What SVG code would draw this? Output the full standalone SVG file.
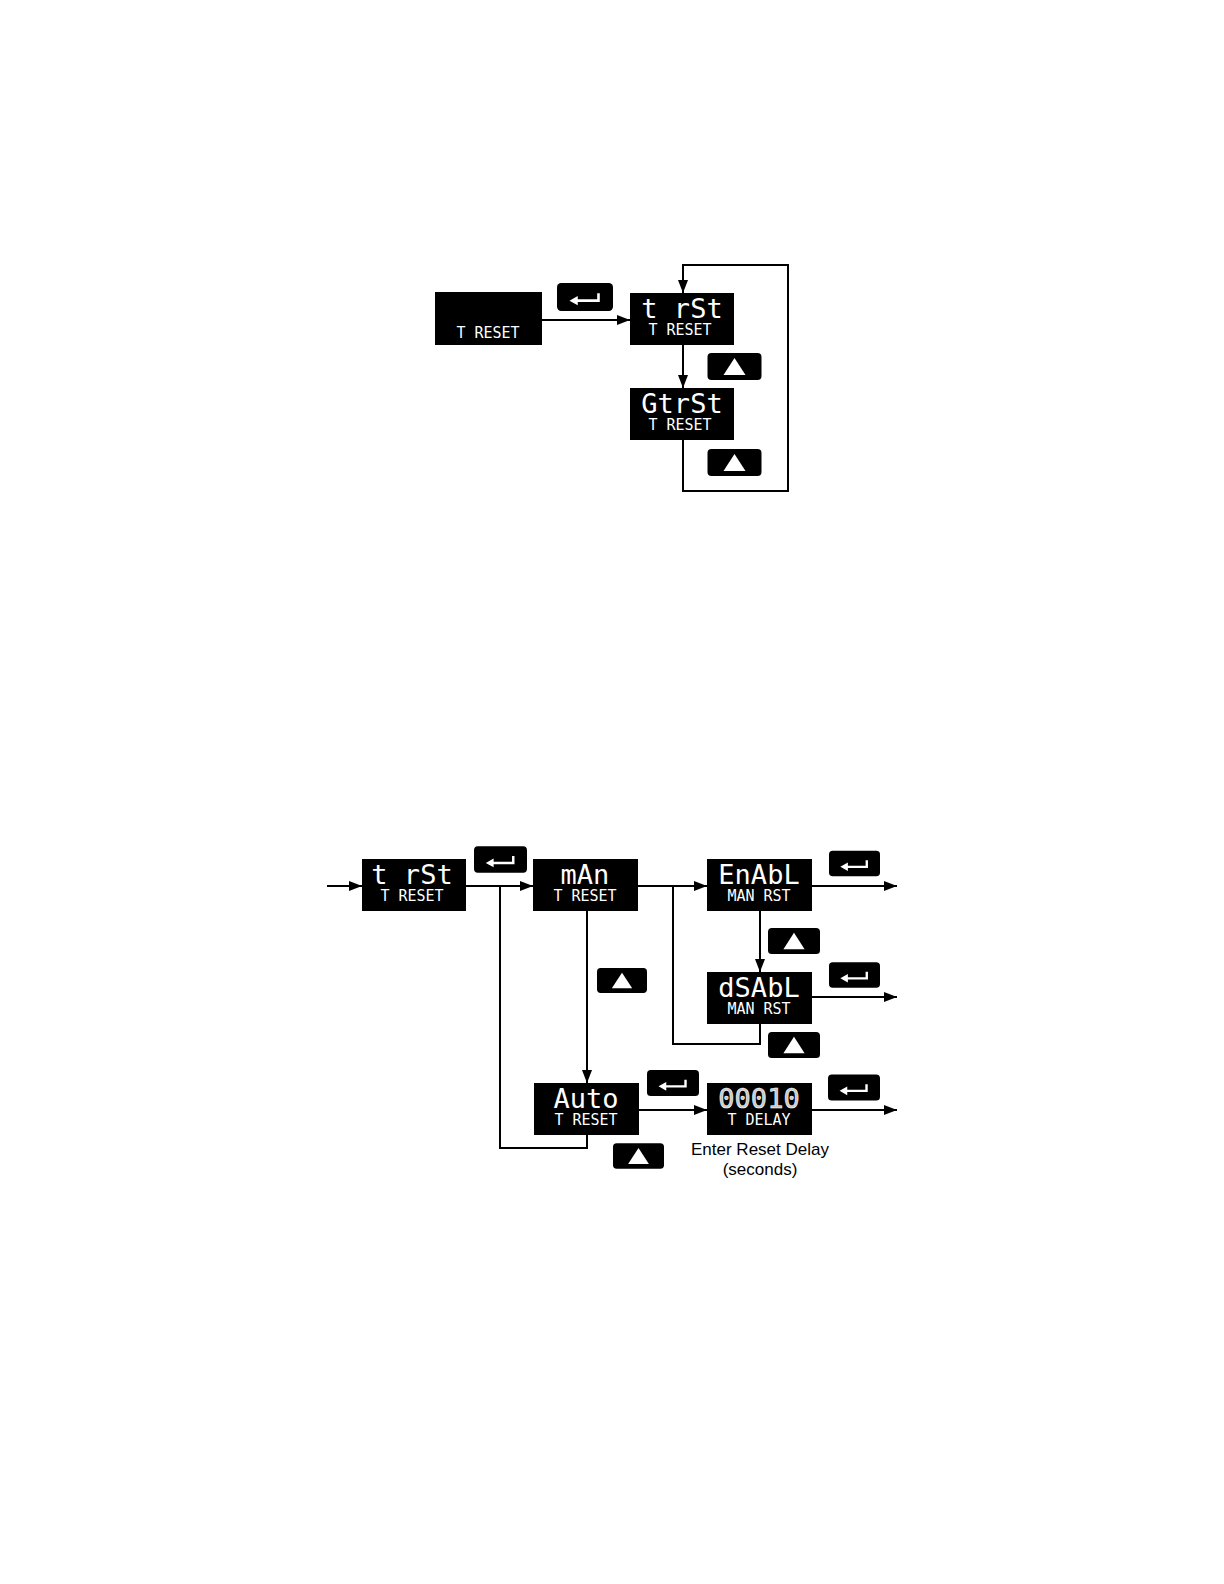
<svg xmlns="http://www.w3.org/2000/svg" xmlns:xlink="http://www.w3.org/1999/xlink" width="1224" height="1584" viewBox="0 0 1224 1584">
<style>
.box{fill:#000}
.big{font-family:"DejaVu Sans Mono",monospace;font-size:27px;fill:#fff;text-anchor:middle}
.dig{font-family:"DejaVu Sans Mono",monospace;font-size:27px;fill:#c8c8c8;stroke:#fff;stroke-width:0.6;text-anchor:middle}
.small{font-family:"DejaVu Sans Mono",monospace;font-size:15px;fill:#fff;text-anchor:middle}
.cap{font-family:"Liberation Sans",Arial,sans-serif;font-size:17px;fill:#000;text-anchor:middle}
.ln{fill:none;stroke:#000;stroke-width:2}
.arr{fill:none;stroke:#000;stroke-width:2;marker-end:url(#ah)}
</style>
<defs>
<marker id="ah" viewBox="0 0 13 10" refX="13" refY="5" markerWidth="13" markerHeight="10" markerUnits="userSpaceOnUse" orient="auto">
<path d="M0,0 L13,5 L0,10 Z" fill="#000"/>
</marker>
<symbol id="enter" viewBox="0 0 54 27">
<rect x="0" y="0" width="54" height="27" rx="4" fill="#000"/>
<path d="M18,17 H40 V10" fill="none" stroke="#fff" stroke-width="2.5"/>
<polygon points="12,17 20,12.5 20,21.5" fill="#fff"/>
</symbol>
<symbol id="up" viewBox="0 0 54 27">
<rect x="0" y="0" width="54" height="27" rx="4" fill="#000"/>
<polygon points="27,5 38,22 16,22" fill="#fff"/>
</symbol>
</defs>
<rect width="1224" height="1584" fill="#fff"/>

<g id="connectors">
<line class="arr" x1="542" y1="320" x2="630" y2="320"/>
<line class="arr" x1="683" y1="345" x2="683" y2="388"/>
<polyline class="arr" points="683,440 683,491 788,491 788,265 683,265 683,293"/>

<line class="arr" x1="327" y1="886" x2="362" y2="886"/>
<line class="arr" x1="466" y1="886" x2="533" y2="886"/>
<polyline class="ln" points="500,886 500,1148 587,1148 587,1135"/>
<line class="arr" x1="587" y1="911" x2="587" y2="1083"/>
<line class="arr" x1="638" y1="886" x2="707" y2="886"/>
<polyline class="ln" points="673,886 673,1044 760,1044 760,1024"/>
<line class="arr" x1="760" y1="911" x2="760" y2="972"/>
<line class="arr" x1="812" y1="886" x2="897" y2="886"/>
<line class="arr" x1="812" y1="997" x2="897" y2="997"/>
<line class="arr" x1="639" y1="1110" x2="707" y2="1110"/>
<line class="arr" x1="812" y1="1110" x2="897" y2="1110"/>
</g>

<g id="top-reset">
<rect class="box" x="435" y="292" width="107" height="53"/>
<text class="small" x="488" y="338">T RESET</text>
</g>
<g id="top-trst">
<rect class="box" x="630" y="293" width="104" height="52"/>
<text class="big" x="682" y="318">t rSt</text>
<text class="small" x="680" y="335">T RESET</text>
</g>
<g id="top-gtrst">
<rect class="box" x="630" y="388" width="104" height="52"/>
<text class="big" x="682" y="413">GtrSt</text>
<text class="small" x="680" y="430">T RESET</text>
</g>
<g id="top-buttons">
<use href="#enter" x="557" y="283" width="56" height="28"/>
<use href="#up" x="707" y="353" width="55" height="27"/>
<use href="#up" x="707" y="449" width="55" height="27"/>
</g>

<g id="b-trst">
<rect class="box" x="362" y="859" width="104" height="52"/>
<text class="big" x="412" y="884">t rSt</text>
<text class="small" x="412" y="901">T RESET</text>
</g>
<g id="b-man">
<rect class="box" x="533" y="859" width="105" height="52"/>
<text class="big" x="585" y="884">mAn</text>
<text class="small" x="585" y="901">T RESET</text>
</g>
<g id="b-enabl">
<rect class="box" x="707" y="859" width="105" height="52"/>
<text class="big" x="759" y="884">EnAbL</text>
<text class="small" x="759" y="901">MAN RST</text>
</g>
<g id="b-dsabl">
<rect class="box" x="707" y="972" width="105" height="52"/>
<text class="big" x="759" y="997">dSAbL</text>
<text class="small" x="759" y="1014">MAN RST</text>
</g>
<g id="b-auto">
<rect class="box" x="534" y="1083" width="105" height="52"/>
<text class="big" x="586" y="1108">Auto</text>
<text class="small" x="586" y="1125">T RESET</text>
</g>
<g id="b-delay">
<rect class="box" x="707" y="1083" width="105" height="52"/>
<text class="dig" x="759" y="1108">00010</text>
<text class="small" x="759" y="1125">T DELAY</text>
<text class="cap" x="760" y="1155">Enter Reset Delay</text>
<text class="cap" x="760" y="1175">(seconds)</text>
</g>
<g id="b-buttons">
<use href="#enter" x="474" y="846" width="53" height="27"/>
<use href="#enter" x="829" y="850" width="51" height="27"/>
<use href="#up" x="768" y="928" width="52" height="26"/>
<use href="#enter" x="829" y="962" width="51" height="26"/>
<use href="#up" x="768" y="1032" width="52" height="26"/>
<use href="#up" x="597" y="968" width="50" height="25"/>
<use href="#enter" x="647" y="1070" width="52" height="26"/>
<use href="#enter" x="828" y="1074" width="52" height="27"/>
<use href="#up" x="613" y="1143" width="51" height="26"/>
</g>
</svg>
